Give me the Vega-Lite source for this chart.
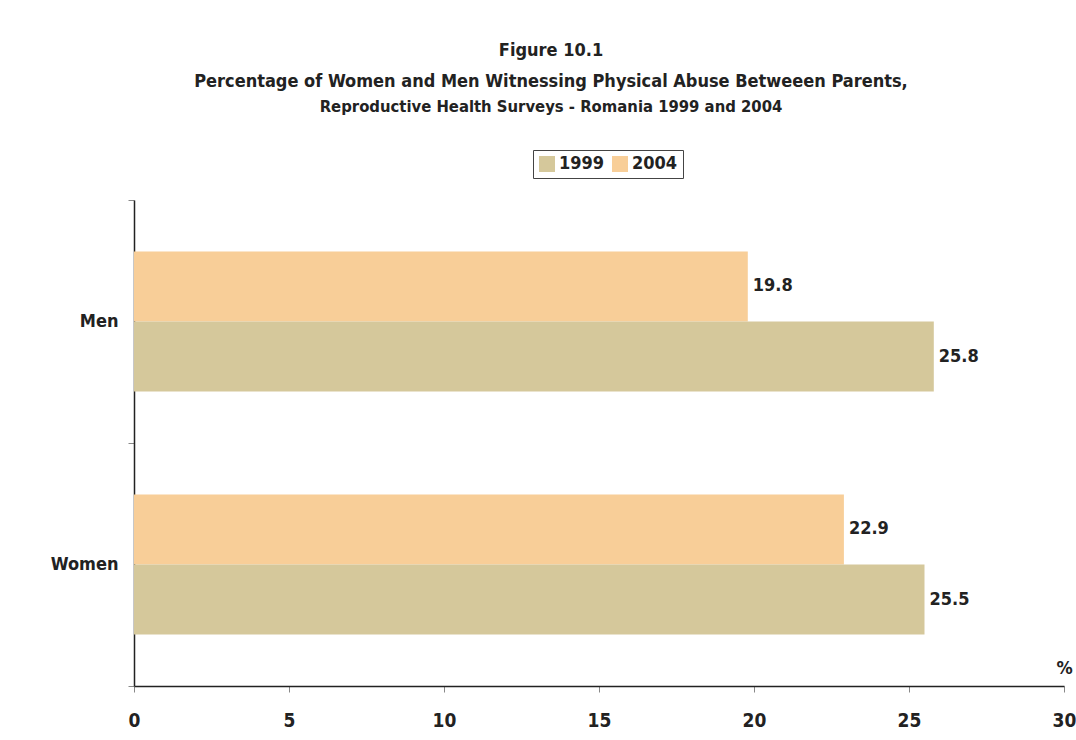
{
  "$schema": "https://vega.github.io/schema/vega-lite/v6.json",
  "width": 930,
  "height": 486,
  "autosize": {"type": "none"},
  "padding": {"left": 134, "top": 200, "right": 12, "bottom": 54},
  "background": "white",
  "config": {
    "view": {"stroke": null},
    "font": "DejaVu Sans Condensed, Liberation Sans, sans-serif"
  },
  "title": {
    "text": ["Figure 10.1", "Percentage of Women and Men Witnessing Physical Abuse Betweeen Parents,"],
    "subtitle": "Reproductive Health Surveys - Romania 1999 and 2004",
    "anchor": "middle",
    "dx": -48,
    "offset": 34,
    "fontSize": 18,
    "fontWeight": "bold",
    "color": "#222222",
    "lineHeight": 31,
    "subtitleFontSize": 16.5,
    "subtitleFontWeight": "bold",
    "subtitleColor": "#222222",
    "subtitlePadding": 8
  },
  "data": {
    "values": [
      {"sex": "Men", "year": "2004", "pct": 19.8},
      {"sex": "Men", "year": "1999", "pct": 25.8},
      {"sex": "Women", "year": "2004", "pct": 22.9},
      {"sex": "Women", "year": "1999", "pct": 25.5}
    ]
  },
  "encoding": {
    "y": {
      "field": "sex",
      "type": "nominal",
      "sort": ["Men", "Women"],
      "scale": {"paddingInner": 0, "paddingOuter": 0},
      "axis": {
        "title": null,
        "tickBand": "extent",
        "labelFontSize": 18,
        "labelFontWeight": "bold",
        "labelColor": "#222222",
        "labelPadding": 10,
        "tickColor": "#888888",
        "tickSize": 6,
        "domainColor": "#222222",
        "domainWidth": 1.5
      }
    },
    "yOffset": {
      "field": "year",
      "type": "nominal",
      "scale": {"domain": ["2004", "1999"], "paddingInner": 0, "paddingOuter": 0.7357}
    },
    "x": {
      "field": "pct",
      "type": "quantitative",
      "scale": {"domain": [0, 30], "nice": false},
      "axis": {
        "title": "%",
        "titleAnchor": "start",
        "titleAngle": 0,
        "titleX": 922,
        "titleY": -18,
        "titleBaseline": "middle",
        "titleFontSize": 18,
        "titleFontWeight": "bold",
        "titleColor": "#222222",
        "values": [0, 5, 10, 15, 20, 25, 30],
        "grid": false,
        "labelFontSize": 19,
        "labelFontWeight": "bold",
        "labelColor": "#222222",
        "labelPadding": 19,
        "labelFlush": false,
        "tickColor": "#888888",
        "tickSize": 6,
        "domainColor": "#222222",
        "domainWidth": 1.5
      }
    }
  },
  "layer": [
    {
      "mark": {"type": "bar"},
      "encoding": {
        "color": {
          "field": "year",
          "type": "nominal",
          "scale": {"domain": ["1999", "2004"], "range": ["#D5C89B", "#F8CE98"]},
          "legend": {
            "title": null,
            "orient": "none",
            "direction": "horizontal",
            "legendX": 399,
            "legendY": -50,
            "symbolType": "square",
            "symbolSize": 256,
            "symbolStrokeWidth": 0,
            "labelFontSize": 18,
            "labelFontWeight": "bold",
            "labelColor": "#222222",
            "labelOffset": 3,
            "columnPadding": 6,
            "strokeColor": "#444444",
            "padding": 5
          }
        }
      }
    },
    {
      "mark": {"type": "text", "align": "left", "baseline": "middle", "dx": 5, "fontSize": 18, "fontWeight": "bold", "color": "#222222"},
      "encoding": {
        "text": {"field": "pct", "type": "quantitative", "format": ".1f"}
      }
    }
  ]
}
